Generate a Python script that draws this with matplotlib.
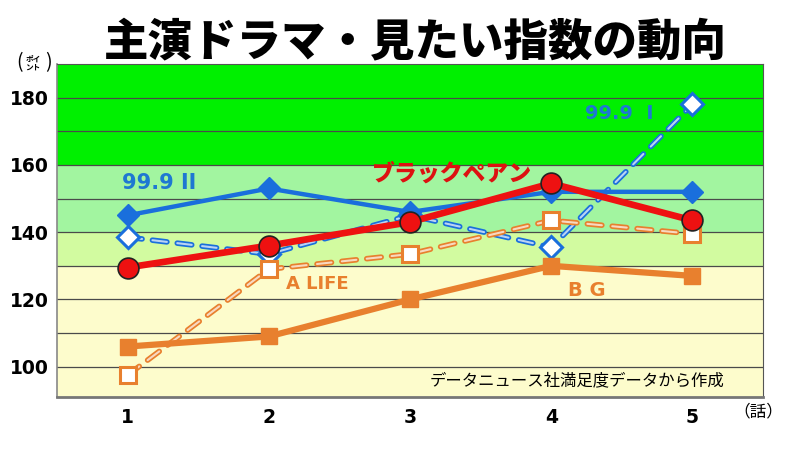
import matplotlib
matplotlib.use("Agg")
import matplotlib.pyplot as plt
import matplotlib.patheffects as pe

plt.rcParams['font.family'] = ['Noto Sans CJK JP', 'DejaVu Sans']

episodes = [1, 2, 3, 4, 5]
ep_labels = ['1', '2', '3', '4', '5']
s_999_2 = [145, 153, 146, 152, 152]        # 99.9 II (solid blue)
s_999_1 = [138.5, 133.5, 145, 135.5, 178]  # 99.9 I (dashed blue)
s_black = [129.5, 136, 143, 154.5, 143.5]  # ブラックペアン
s_alife = [97.5, 129, 133.5, 143.5, 139.5] # A LIFE (dashed orange)
s_bg = [106, 109, 120, 130, 127]           # B G (solid orange)
y_ticks = [100, 120, 140, 160, 180]

BLUE = '#1a6fdc'
RED = '#ee1111'
ORANGE = '#e8802e'

fig = plt.figure(figsize=(8, 4.5), dpi=100)
ax = fig.add_axes([57/800, 1-397/450, (763-57)/800, (397-64)/450])
ax.set_xlim(0.5, 5.5)
ax.set_ylim(91, 190)

# background bands
ax.axhspan(160, 190, color='#00f000', zorder=0, lw=0)
ax.axhspan(140, 160, color='#a2f5a0', zorder=0, lw=0)
ax.axhspan(130, 140, color='#d2fba0', zorder=0, lw=0)
ax.axhspan(91, 130, color='#fdfccc', zorder=0, lw=0)
for g in range(100, 190, 10):
    ax.axhline(g, color='#4a4a4a', lw=0.9, zorder=1)

def dashed(y, color, marker, ms, z):
    ax.plot(episodes, y, color='white', lw=1.5, ls=(0, (7, 5)),
            dash_capstyle='round', zorder=z, alpha=0.7,
            path_effects=[pe.Stroke(linewidth=4.0, foreground=color,
                                    capstyle='round'), pe.Normal()])
    ax.plot(episodes, y, ls='none', marker=marker, ms=ms, mfc='white',
            mec=color, mew=2.2, zorder=z + 0.5)

dashed(s_999_1, BLUE, 'D', 11, 3)
dashed(s_alife, ORANGE, 's', 12, 4)
ax.plot(episodes, s_bg, color=ORANGE, lw=4.5, marker='s', ms=11, zorder=5)
ax.plot(episodes, s_999_2, color=BLUE, lw=3.2, marker='D', ms=11, zorder=6)
ax.plot(episodes, s_black, color=RED, lw=4.8, marker='o', ms=15,
        mec='#222222', mew=1.2, zorder=7)

# series labels
lab_font = ['DejaVu Sans']
ax.text(0.96, 154.6, '99.9 II', color='#1e78d2', fontsize=15, fontweight='bold',
        family=lab_font, va='center', ha='left', zorder=8)
ax.text(4.24, 175.4, '99.9  I', color='#1e78d2', fontsize=14, fontweight='bold',
        family=lab_font, va='center', ha='left', zorder=8)
ax.text(2.73, 157.2, 'ブラックペアン', color='#dd1111', fontsize=16.5, fontweight='heavy',
        va='center', ha='left', zorder=8)
ax.text(2.12, 124.6, 'A LIFE', color=ORANGE, fontsize=13, fontweight='bold',
        family=lab_font, va='center', ha='left', zorder=8)
ax.text(4.12, 122.8, 'B G', color=ORANGE, fontsize=14, fontweight='bold',
        family=lab_font, va='center', ha='left', zorder=8)
ax.text(3.14, 95.8, 'データニュース社満足度データから作成', color='black', fontsize=11.8,
        va='center', ha='left', zorder=8)

ax.set_xticks(episodes)
ax.set_xticklabels(ep_labels)
ax.set_yticks(y_ticks)
ax.set_yticklabels([str(v) for v in y_ticks])
for lab in ax.get_xticklabels() + ax.get_yticklabels():
    lab.set_fontweight('bold')
    lab.set_fontsize(13.5)
    lab.set_family(['DejaVu Sans'])
ax.tick_params(axis='both', length=0)
ax.tick_params(axis='x', pad=8)
ax.tick_params(axis='y', pad=6)

for s in ['top', 'right']:
    ax.spines[s].set_color('#555555')
    ax.spines[s].set_linewidth(0.8)
ax.spines['left'].set_color('#888888')
ax.spines['left'].set_linewidth(1.2)
ax.spines['bottom'].set_color('#777777')
ax.spines['bottom'].set_linewidth(2.0)

fig.text(415/800, 1-42/450, '主演ドラマ・見たい指数の動向', fontsize=32, fontweight='heavy',
         ha='center', va='center', color='black')
fig.text(758/800, 1-412/450, '（話）', fontsize=12, ha='center', va='center')
fig.text(19/800, 1-63/450, '(', fontsize=14, ha='center', va='center')
fig.text(48/800, 1-63/450, ')', fontsize=14, ha='center', va='center')
fig.text(33/800, 1-63/450, 'ポイ\nント', fontsize=5.5, ha='center', va='center',
         linespacing=0.9, fontweight='bold')

fig.savefig('out.png', dpi=100)
